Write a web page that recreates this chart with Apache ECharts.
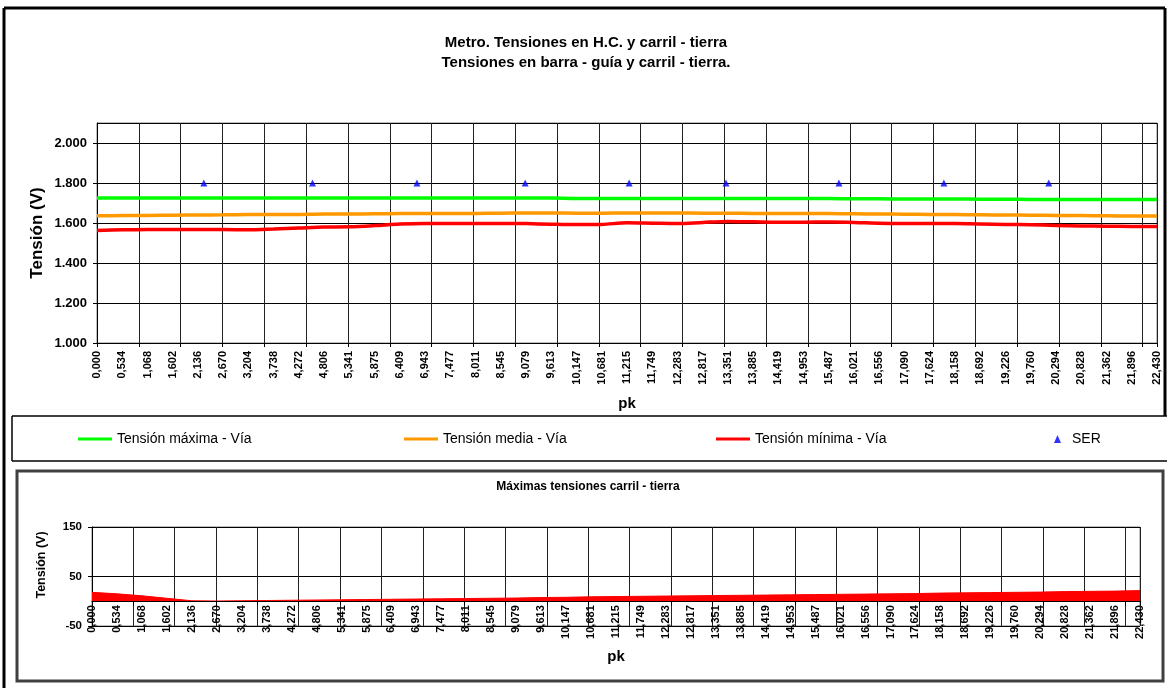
<!DOCTYPE html>
<html><head><meta charset="utf-8">
<script src="https://cdn.jsdelivr.net/npm/echarts@6/dist/echarts.min.js"></script>
<style>html,body{margin:0;padding:0;background:#fff}#c{width:1167px;height:688px}</style>
</head><body><div id="c"></div>
<script>
// ---- data ----
const pkLabels = ['0,000','0,534','1,068','1,602','2,136','2,670','3,204','3,738','4,272','4,806','5,341','5,875','6,409','6,943','7,477','8,011','8,545','9,079','9,613','10,147','10,681','11,215','11,749','12,283','12,817','13,351','13,885','14,419','14,953','15,487','16,021','16,556','17,090','17,624','18,158','18,692','19,226','19,760','20,294','20,828','21,362','21,896','22,430'];
const vMax = [1725,1725,1725,1725,1725,1725,1725,1725,1725,1725,1725,1725,1725,1725,1725,1725,1725,1725,1725,1723,1723,1723,1723,1723,1723,1722,1722,1722,1722,1722,1721,1721,1720,1720,1720,1719,1719,1718,1718,1718,1717,1717,1717];
const vMed = [1636,1637,1638,1639,1640,1641,1642,1642,1643,1645,1645,1646,1647,1647,1648,1648,1649,1650,1650,1649,1649,1650,1650,1650,1649,1649,1648,1648,1647,1647,1646,1645,1644,1643,1642,1641,1640,1639,1638,1637,1636,1635,1635];
const vMin = [1563,1566,1567,1567,1567,1567,1566,1570,1575,1580,1581,1587,1595,1598,1598,1598,1598,1597,1594,1592,1593,1601,1599,1597,1603,1608,1606,1604,1604,1605,1603,1599,1598,1598,1597,1595,1593,1591,1588,1585,1584,1583,1583];
const serPk = [2.26,4.56,6.77,9.06,11.26,13.31,15.70,17.92,20.14];
const serV = [1800,1800,1800,1800,1800,1800,1800,1800,1800];
const railEarth = [18,15,11,6,1,0.5,1,1.5,2,2.5,3,3.5,4,4.5,5,5.5,6,6.5,7.5,8,9,9.5,10,10.5,11,11.5,12,12.5,13,13.5,14,14.5,15,15.5,16.5,17,17.5,18,18.5,19.5,20,20.5,21.5];
const topYTicks = [1000,1200,1400,1600,1800,2000];
const topYLabels = ['1.000','1.200','1.400','1.600','1.800','2.000'];
const botYTicks = [-50,50,150];
const botYLabels = ['-50','50','150'];
const pkMax = 22.43;

const FF = '"Liberation Sans", Arial, sans-serif';
const chart = echarts.init(document.getElementById('c'), null, {renderer:'canvas'});
function lookup(ticks, labels){ return v => { const i = ticks.indexOf(v); return i < 0 ? '' : labels[i]; }; }
const lblBold = (sz) => ({fontFamily: FF, fontWeight: 'bold', fontSize: sz, color: '#000'});
const legTxt = {fontFamily: FF, fontSize: 14, color: '#000'};
const off = {show: false};

// bottom plot geometry: y from -50 (bottom) to 150 (top); zero line = top + height*150/200
const BOT_TOP = 527, BOT_H = 99;

const option = {
  backgroundColor: '#fff',
  animation: false,
  grid: [
    {left: 97, top: 123, width: 1060, height: 220, show: true, borderColor: '#808080', borderWidth: 1, backgroundColor: 'transparent'},
    {left: 92, top: BOT_TOP, width: 1048, height: BOT_H, show: true, borderColor: '#808080', borderWidth: 1, backgroundColor: 'transparent'},
    {left: 92, top: BOT_TOP, width: 1048, height: BOT_H * 150 / 200, show: false}
  ],
  xAxis: [
    {gridIndex: 0, type: 'category', data: pkLabels, boundaryGap: false, position: 'bottom',
     axisLine: {show: true, lineStyle: {color: '#000', width: 1}}, axisTick: off,
     axisLabel: Object.assign({interval: 0, rotate: 90, margin: 8}, lblBold(11)), splitLine: off},
    {gridIndex: 0, type: 'value', min: 0, max: pkMax, interval: 0.885, position: 'bottom',
     axisLine: off, axisTick: {show: true, length: 4, lineStyle: {color: '#000'}},
     axisLabel: off, splitLine: {show: true, lineStyle: {color: '#222', width: 1}}},
    // bottom data axes
    {gridIndex: 1, type: 'category', data: pkLabels, boundaryGap: false, position: 'bottom',
     axisLine: {show: false, onZero: false}, axisTick: off, axisLabel: off, splitLine: off},
    {gridIndex: 1, type: 'value', min: 0, max: pkMax, interval: 0.885, position: 'bottom',
     axisLine: {show: false, onZero: false}, axisTick: off, axisLabel: off,
     splitLine: {show: true, lineStyle: {color: '#222', width: 1}}},
    // bottom label axes sitting on the zero line
    {gridIndex: 2, type: 'category', data: pkLabels, boundaryGap: false, position: 'bottom',
     axisLine: {show: true, onZero: false, lineStyle: {color: '#000', width: 1}}, axisTick: off,
     axisLabel: Object.assign({interval: 0, rotate: 90, margin: 4}, lblBold(11)), splitLine: off, z: 5},
    {gridIndex: 2, type: 'value', min: 0, max: pkMax, interval: 0.885, position: 'bottom',
     axisLine: {show: false, onZero: false}, axisTick: {show: true, length: 4, lineStyle: {color: '#000'}},
     axisLabel: off, splitLine: off, z: 5}
  ],
  yAxis: [
    {gridIndex: 0, type: 'value', min: 1000, max: 2100, interval: 200,
     axisLine: {show: true, lineStyle: {color: '#000'}}, axisTick: {show: true, length: 4, lineStyle: {color: '#000'}},
     axisLabel: Object.assign({margin: 10, showMaxLabel: false, formatter: lookup(topYTicks, topYLabels)}, lblBold(13)),
     splitLine: {show: true, lineStyle: {color: '#000', width: 1}}},
    {gridIndex: 1, type: 'value', min: -50, max: 150, interval: 100,
     axisLine: {show: true, lineStyle: {color: '#000'}}, axisTick: {show: true, length: 4, lineStyle: {color: '#000'}},
     axisLabel: Object.assign({margin: 10, formatter: lookup(botYTicks, botYLabels)}, lblBold(11.5)),
     splitLine: {show: true, lineStyle: {color: '#000', width: 1}}},
    {gridIndex: 2, type: 'value', min: 0, max: 150, show: false}
  ],
  legend: [
    {data: ['Tensión máxima - Vía'], left: 78, top: 432, padding: 0, icon: 'rect', itemWidth: 34, itemHeight: 3, textStyle: legTxt},
    {data: ['Tensión media - Vía'], left: 404, top: 432, padding: 0, icon: 'rect', itemWidth: 34, itemHeight: 3, textStyle: legTxt},
    {data: ['Tensión mínima - Vía'], left: 716, top: 432, padding: 0, icon: 'rect', itemWidth: 34, itemHeight: 3, textStyle: legTxt},
    {data: ['SER'], left: 1054, top: 432, padding: 0, icon: 'triangle', itemWidth: 7, itemHeight: 8,
     textStyle: Object.assign({padding: [0,0,0,6]}, legTxt)}
  ],
  series: [
    {name: 'Tensión máxima - Vía', type: 'line', xAxisIndex: 0, yAxisIndex: 0, data: vMax, symbol: 'none', smooth: 0.3,
     lineStyle: {color: '#00FF00', width: 3.5}, itemStyle: {color: '#00FF00'}, z: 3},
    {name: 'Tensión media - Vía', type: 'line', xAxisIndex: 0, yAxisIndex: 0, data: vMed, symbol: 'none', smooth: 0.3,
     lineStyle: {color: '#FF9900', width: 3.5}, itemStyle: {color: '#FF9900'}, z: 3},
    {name: 'Tensión mínima - Vía', type: 'line', xAxisIndex: 0, yAxisIndex: 0, data: vMin, symbol: 'none', smooth: 0.3,
     lineStyle: {color: '#FF0000', width: 3.5}, itemStyle: {color: '#FF0000'}, z: 3},
    {name: 'SER', type: 'scatter', xAxisIndex: 1, yAxisIndex: 0, data: serPk.map((p, i) => [p, serV[i]]),
     symbol: 'triangle', symbolSize: [7, 7], itemStyle: {color: '#0000FF'}, z: 4},
    {name: 'Máximas tensiones carril - tierra', type: 'line', xAxisIndex: 2, yAxisIndex: 1, data: railEarth, symbol: 'none',
     lineStyle: {color: '#FF0000', width: 1}, itemStyle: {color: '#FF0000'}, areaStyle: {color: '#FF0000', opacity: 1, origin: 0}, z: 3}
  ],
  graphic: [
    {type: 'line', shape: {x1: 4, y1: 8, x2: 1165, y2: 8}, style: {stroke: '#000', lineWidth: 3}, silent: true},
    {type: 'line', shape: {x1: 4, y1: 8, x2: 4, y2: 688}, style: {stroke: '#000', lineWidth: 3}, silent: true},
    {type: 'line', shape: {x1: 1165, y1: 8, x2: 1165, y2: 416}, style: {stroke: '#000', lineWidth: 3}, silent: true},
    {type: 'line', shape: {x1: 12, y1: 416, x2: 1167, y2: 416}, style: {stroke: '#000', lineWidth: 1.5}, silent: true},
    {type: 'line', shape: {x1: 12, y1: 461, x2: 1167, y2: 461}, style: {stroke: '#000', lineWidth: 1.5}, silent: true},
    {type: 'line', shape: {x1: 12, y1: 416, x2: 12, y2: 461}, style: {stroke: '#000', lineWidth: 1.5}, silent: true},
    {type: 'rect', shape: {x: 17, y: 471, width: 1146, height: 210}, style: {fill: 'none', stroke: '#404040', lineWidth: 3}, silent: true},
    {type: 'text', x: 586, y: 43, style: {text: 'Metro. Tensiones en H.C. y carril - tierra', font: 'bold 15px ' + FF, textAlign: 'center', textVerticalAlign: 'middle', fill: '#000'}},
    {type: 'text', x: 586, y: 63, style: {text: 'Tensiones en barra - guía y carril - tierra.', font: 'bold 15px ' + FF, textAlign: 'center', textVerticalAlign: 'middle', fill: '#000'}},
    {type: 'text', x: 37, y: 233, rotation: Math.PI / 2, style: {text: 'Tensión (V)', font: 'bold 17px ' + FF, textAlign: 'center', textVerticalAlign: 'middle', fill: '#000'}},
    {type: 'text', x: 627, y: 404, style: {text: 'pk', font: 'bold 15px ' + FF, textAlign: 'center', textVerticalAlign: 'middle', fill: '#000'}},
    {type: 'text', x: 588, y: 487, style: {text: 'Máximas tensiones carril - tierra', font: 'bold 12px ' + FF, textAlign: 'center', textVerticalAlign: 'middle', fill: '#000'}},
    {type: 'text', x: 42, y: 565, rotation: Math.PI / 2, style: {text: 'Tensión (V)', font: 'bold 12.5px ' + FF, textAlign: 'center', textVerticalAlign: 'middle', fill: '#000'}},
    {type: 'text', x: 616, y: 657, style: {text: 'pk', font: 'bold 15px ' + FF, textAlign: 'center', textVerticalAlign: 'middle', fill: '#000'}}
  ]
};
chart.setOption(option);
</script></body></html>
